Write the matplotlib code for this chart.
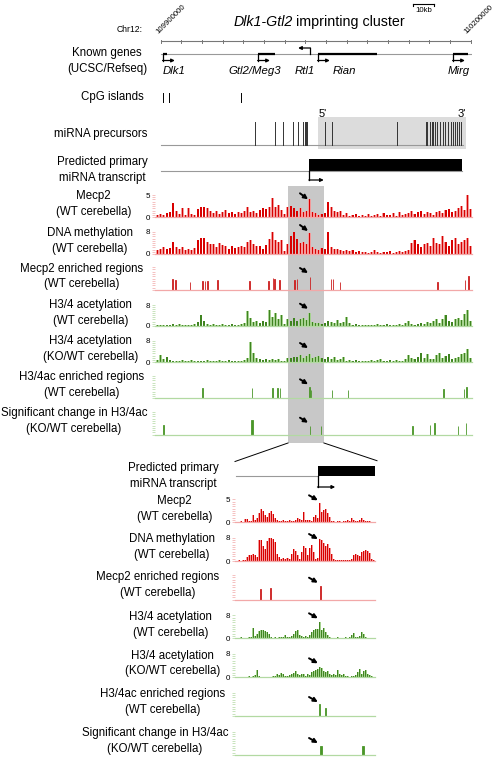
import matplotlib
matplotlib.use('Agg')
import matplotlib.pyplot as plt
from matplotlib.ticker import MultipleLocator
import numpy as np

plt.rcParams['font.family'] = ['Liberation Sans', 'DejaVu Sans']

# ---------------- data (positions in kb from 109,900,000) ----------------
chrom_start, chrom_end = 109900000, 110200000
ruler_kb = list(range(0, 301, 20))
scalebar_kb = [244.6, 264.6]

gene_names = ['Dlk1', 'Gtl2/Meg3', 'Rtl1', 'Rian', 'Mirg']
gene_start = [2.2, 94.2, 137.0, 152.2, 282.9]
gene_end = [6.1, 110.6, 144.5, 209.4, 297.4]
gene_strand = ['+', '+', '-', '+', '+']
gene_label_x = [2.2, 65.1, 130.0, 166.7, 278.0]

cpg_kb = [1.9, 8.3, 77.4]

mirna_kb = [91.3, 110.6, 118.6, 127.7, 133.2, 138.0, 139.6, 140.6, 141.6,
            159.0, 165.5, 229.0, 256.7, 258.0, 260.6, 262.3, 263.8, 265.5,
            267.1, 270.3, 272.9, 275.1, 278.3, 280.6, 283.2, 284.8, 287.0,
            289.0, 290.9]
mirna_box_kb = [152.2, 295.5]
transcript_kb = [143.8, 291.6]
zoom_kb = [123.2, 158.0]

# signal tracks, 3 kb bins starting at -4.5 kb
mecp2_top = [0.6, 0.8, 0.5, 0.9, 1.2, 3.3, 1.4, 0.8, 2.0, 0.6, 2.0, 0.7, 0.5,
             1.8, 2.4, 2.2, 2.0, 1.5, 1.0, 1.4, 0.8, 1.2, 1.6, 0.9, 1.1, 0.7,
             1.3, 1.0, 1.5, 2.3, 1.2, 1.5, 0.9, 1.6, 2.0, 1.8, 2.4, 4.3, 2.2,
             2.8, 1.6, 0.8, 2.2, 2.5, 2.0, 1.4, 2.0, 1.2, 1.5, 4.2, 1.3, 0.9,
             0.6, 0.8, 1.0, 3.5, 2.2, 1.4, 1.2, 1.5, 0.6, 1.0, 0.4, 0.5, 0.8,
             0.3, 0.5, 0.4, 0.7, 0.3, 0.5, 0.8, 0.4, 1.0, 0.6, 0.5, 0.9, 0.4,
             1.1, 0.6, 0.8, 0.9, 1.5, 0.7, 1.2, 1.5, 0.8, 1.3, 1.0, 0.6, 1.2,
             1.4, 0.9, 1.6, 1.8, 1.3, 1.5, 2.0, 2.5, 1.6, 5.0, 1.8]
meth_top = [1.5, 2.0, 2.6, 1.8, 2.2, 4.5, 2.5, 1.8, 2.4, 1.5, 2.0, 1.6, 2.2,
            5.0, 5.7, 6.0, 4.5, 3.5, 3.8, 2.5, 4.0, 3.2, 2.8, 2.0, 3.0, 2.2,
            2.6, 3.0, 2.4, 4.5, 5.0, 3.5, 2.8, 3.0, 2.0, 3.2, 5.5, 8.0, 5.0,
            4.5, 5.2, 1.0, 3.5, 6.5, 8.0, 5.5, 4.0, 4.5, 3.5, 7.8, 2.5, 2.0,
            1.5, 2.2, 1.8, 8.0, 2.5, 1.8, 2.0, 1.5, 1.2, 1.5, 1.0, 1.4, 0.8,
            1.0, 0.6, 0.8, 0.5, 0.7, 1.5, 0.6, 0.5, 0.9, 0.7, 1.0, 0.5, 0.8,
            1.2, 0.6, 1.0, 1.5, 4.0, 5.0, 3.5, 2.5, 3.5, 4.0, 3.0, 5.7, 4.0,
            3.5, 6.4, 4.5, 3.0, 5.0, 5.7, 3.5, 4.5, 5.2, 6.0, 3.0]
ac_wt_top = [0.3, 0.2, 0.4, 0.3, 0.2, 0.8, 0.3, 0.6, 0.2, 0.4, 0.3, 0.2, 0.5,
             1.5, 4.0, 2.0, 0.8, 0.3, 0.6, 0.2, 0.4, 0.8, 0.3, 0.2, 0.5, 0.3,
             0.4, 0.6, 1.2, 5.5, 3.0, 1.5, 1.8, 1.2, 2.0, 1.5, 6.0, 3.5, 5.0,
             2.5, 4.0, 0.5, 2.5, 2.0, 3.0, 1.8, 2.5, 3.0, 2.2, 5.0, 1.5, 1.0,
             1.2, 0.8, 1.0, 2.0, 1.5, 1.2, 2.2, 1.0, 1.5, 3.5, 1.0, 0.4, 0.6,
             0.3, 0.2, 0.2, 0.1, 0.3, 0.2, 0.5, 0.2, 0.1, 0.6, 0.3, 0.2, 0.4,
             0.8, 0.3, 1.0, 2.0, 0.8, 0.4, 0.6, 1.2, 0.8, 1.5, 1.0, 2.0, 2.5,
             1.2, 2.5, 4.0, 2.0, 1.5, 2.5, 3.0, 2.2, 4.5, 6.0, 2.0]
ac_ko_top = [0.8, 2.5, 1.0, 1.8, 0.6, 0.3, 0.5, 0.2, 0.8, 0.4, 0.3, 0.6, 0.2,
             0.5, 0.3, 0.4, 0.7, 0.2, 0.5, 0.3, 0.8, 0.4, 0.3, 0.6, 0.2, 0.5,
             0.4, 0.3, 0.6, 1.5, 7.4, 3.5, 1.5, 1.0, 0.8, 1.2, 0.6, 1.0, 0.8,
             1.2, 0.5, 0.3, 1.5, 1.5, 2.0, 1.8, 2.5, 1.6, 2.2, 2.8, 1.5, 2.0,
             2.2, 1.5, 1.0, 1.8, 1.2, 2.0, 0.8, 1.0, 2.0, 0.5, 0.8, 0.3, 0.6,
             0.2, 0.4, 0.5, 0.3, 0.8, 0.4, 0.6, 1.0, 0.5, 0.3, 0.6, 0.4, 0.8,
             0.5, 0.4, 1.2, 2.5, 1.5, 1.0, 2.0, 3.3, 1.5, 2.8, 1.2, 1.0, 2.5,
             3.5, 1.5, 2.2, 3.0, 1.0, 1.5, 2.0, 2.8, 3.5, 5.0, 1.5]

# zoomed signal tracks, 0.5 kb bins starting at 123.5 kb
mecp2_zoom = [0.1, 0.1, 0.2, 0.1, 0.8, 0.7, 0.2, 0.3, 1.5, 0.4, 1.0, 2.0, 2.8,
              2.5, 1.5, 1.2, 2.0, 2.5, 1.8, 1.0, 0.6, 0.3, 0.2, 0.4, 0.3, 0.2,
              0.5, 0.3, 0.2, 0.4, 1.0, 0.8, 0.5, 2.2, 0.5, 0.4, 0.6, 0.3, 1.2,
              1.6, 1.0, 4.2, 2.2, 2.6, 2.8, 2.0, 1.2, 0.3, 0.2, 0.1, 0.3, 0.2,
              0.1, 0.3, 0.2, 0.4, 0.2, 1.0, 0.5, 0.2, 0.3, 0.6, 1.0, 0.6, 0.3,
              0.2, 0.2, 0.1, 0.1]
meth_zoom = [0.1, 0.2, 0.1, 0.3, 0.5, 1.5, 2.0, 2.2, 2.5, 2.0, 1.2, 7.0, 7.2,
             5.0, 4.0, 6.8, 7.8, 8.0, 7.6, 6.5, 2.5, 1.2, 0.8, 1.0, 0.6, 1.0,
             0.8, 2.5, 4.0, 3.5, 2.0, 0.8, 3.0, 5.2, 4.5, 2.0, 4.5, 5.5, 3.0,
             0.6, 1.0, 7.5, 7.2, 6.0, 5.0, 5.8, 4.5, 2.5, 0.8, 0.4, 0.3, 0.2,
             0.3, 0.2, 0.4, 0.3, 0.5, 0.8, 2.0, 2.4, 2.2, 1.8, 3.0, 3.5, 3.8,
             3.5, 2.8, 0.8, 0.3]
ac_wt_zoom = [0.2, 0.1, 0.3, 0.2, 0.1, 0.2, 0.3, 0.4, 3.5, 0.8, 1.5, 2.5, 2.8,
              3.0, 2.6, 2.2, 1.5, 0.5, 0.2, 0.3, 0.2, 0.4, 0.3, 0.5, 1.0, 0.6,
              0.3, 0.8, 1.5, 2.5, 2.8, 1.2, 0.8, 0.6, 0.9, 0.5, 1.0, 2.2, 3.0,
              3.2, 3.4, 5.5, 3.0, 3.5, 2.2, 1.0, 0.3, 0.2, 0.1, 0.2, 0.3, 0.1,
              0.2, 0.2, 0.3, 0.2, 0.4, 1.0, 2.0, 0.6, 0.3, 0.8, 2.2, 1.5, 0.5,
              0.2, 0.2, 0.1, 0.1]
ac_ko_zoom = [0.1, 0.2, 0.1, 0.1, 0.2, 0.1, 0.3, 0.2, 0.4, 0.8, 2.5, 0.4, 0.1,
              0.2, 0.1, 0.1, 0.2, 0.1, 0.3, 0.5, 1.0, 0.8, 1.5, 1.2, 0.6, 0.4,
              0.9, 1.2, 1.5, 2.0, 1.2, 0.8, 1.0, 1.2, 0.6, 1.1, 0.9, 1.8, 2.2,
              2.5, 2.8, 3.5, 3.0, 2.0, 1.8, 2.2, 1.2, 0.8, 1.0, 0.7, 2.5, 1.2,
              0.8, 1.0, 0.5, 0.4, 0.2, 0.5, 0.3, 0.8, 1.8, 2.8, 1.0, 2.0, 2.5,
              1.2, 0.8, 0.6, 0.2]

# enriched / significant regions: position (kb), relative height, width (kb)
mecp2_enr_kb = [11.6, 14.5, 28.4, 40.3, 42.9, 45.2, 54.8, 85.8, 104.5, 108.4,
                110.0, 114.8, 129.5, 132.0, 144.4, 164.8, 166.8, 173.5, 267.7,
                294.5, 297.7]
mecp2_enr_h = [0.48, 0.43, 0.36, 0.39, 0.39, 0.39, 0.43, 0.39, 0.39, 0.54,
               0.50, 0.43, 0.43, 0.48, 0.55, 0.48, 0.48, 0.36, 0.36, 0.43, 0.62]
ac_enr_kb = [40.6, 88.1, 108.1, 112.9, 115.5, 144.2, 145.7, 165.5, 181.0,
             273.5, 293.5, 296.1]
ac_enr_h = [0.45, 0.45, 0.45, 0.45, 0.45, 0.52, 0.36, 0.37, 0.37, 0.40,
            0.40, 0.52]
sig_kb = [2.6, 88.7, 144.6, 155.0, 243.5, 260.6, 264.8, 288.0, 295.5]
sig_h = [0.42, 0.64, 0.40, 0.38, 0.38, 0.42, 0.50, 0.38, 0.50]
sig_w = [0.5, 2.2, 0.5, 0.5, 0.5, 0.5, 0.5, 0.5, 0.5]

for arr in (mecp2_top, meth_top, ac_wt_top, ac_ko_top):
    assert len(arr) == 102, len(arr)
for arr in (mecp2_zoom, meth_zoom, ac_wt_zoom, ac_ko_zoom):
    assert len(arr) == 69, len(arr)

top_bins = -3 + 3 * np.arange(102)
zoom_bins = 123.75 + 0.5 * np.arange(69)

# ---------------- layout ----------------
W, H = 498, 757
fig = plt.figure(figsize=(W / 100, H / 100), dpi=100)

TOP_X = (155, 472)
TOP_LIM = ((155 - 160.7) / 1.0333, (472 - 160.7) / 1.0333)
BOT_X = (235, 375)
BOT_LIM = tuple(zoom_kb)

RED, PINK, RED_LINE = '#d80000', '#f39a9a', '#f2a8a8'
GREEN, LGREEN, GREEN_LINE = '#3f8420', '#a6d290', '#b2d9a2'
LABEL_FS = 8.3


def top_px(kb):
    return 160.7 + 1.0333 * kb


def px_axes(x0, x1, ytop, ybot, **kw):
    ax = fig.add_axes([x0 / W, 1 - ybot / H, (x1 - x0) / W, (ybot - ytop) / H], **kw)
    ax.patch.set_alpha(0)
    return ax


# overlay in pixel coordinates (background shading, labels)
ov = px_axes(0, W, 0, H, zorder=0)
ov.set_xlim(0, W)
ov.set_ylim(H, 0)
ov.axis('off')

zx0, zx1 = top_px(zoom_kb[0]), top_px(zoom_kb[1])
ov.add_patch(plt.Rectangle((zx0, 186), zx1 - zx0, 443 - 186, color='#c8c8c8', lw=0))
ov.plot([zx0, BOT_X[0]], [443, 461.5], color='k', lw=0.7)
ov.plot([zx1, BOT_X[1] + 2], [443, 460.7], color='k', lw=0.7)

# header axes: x in kb, y in pixels
hd = px_axes(TOP_X[0], TOP_X[1], 0, 185, zorder=1)
hd.set_xlim(TOP_LIM)
hd.set_ylim(185, 0)
hd.axis('off')

# title / coordinates
ov.text(293, 22, 'Dlk1-Gtl2', ha='right', va='center', fontsize=10.3, style='italic')
ov.text(296.5, 22, 'imprinting cluster', ha='left', va='center', fontsize=10.3)
ov.text(143, 30, 'Chr12:', ha='right', va='center', fontsize=6.2)
hd.text(-1.2, 35.5, str(chrom_start), rotation=45, rotation_mode='anchor',
        ha='left', va='bottom', fontsize=5.6)
hd.text(297.5, 35.5, str(chrom_end), rotation=45, rotation_mode='anchor',
        ha='left', va='bottom', fontsize=5.6)
hd.plot([ruler_kb[0], ruler_kb[-1]], [41, 41], color='#777777', lw=0.8)
for t in ruler_kb:
    hd.plot([t, t], [40, 43], color='#777777', lw=0.7)
hd.plot(scalebar_kb, [3.5, 3.5], color='k', lw=0.8)
for s in scalebar_kb:
    hd.plot([s, s], [3.5, 6.2], color='k', lw=0.8)
hd.text(np.mean(scalebar_kb), 10.5, '10kb', ha='center', va='center', fontsize=5.6)

# known genes
hd.plot([0, 302], [54, 54], color='#999999', lw=0.8)
for name, s, e, strand, lx in zip(gene_names, gene_start, gene_end, gene_strand, gene_label_x):
    if strand == '+':
        hd.plot([s, e], [53.6, 53.6], color='k', lw=1.6, solid_capstyle='butt')
        hd.plot([s, s], [54, 60.5], color='k', lw=0.9)
        hd.annotate('', xy=(s + 11.5, 60.5), xytext=(s - 0.4, 60.5),
                    arrowprops=dict(arrowstyle='-|>', color='k', lw=0.9,
                                    mutation_scale=5, shrinkA=0, shrinkB=0))
    else:
        hd.plot([e, e], [54, 48], color='k', lw=0.9)
        hd.annotate('', xy=(e - 11.5, 48), xytext=(e + 0.4, 48),
                    arrowprops=dict(arrowstyle='-|>', color='k', lw=0.9,
                                    mutation_scale=5, shrinkA=0, shrinkB=0))
    hd.text(lx, 71, name, ha='left', va='center', fontsize=8.2, style='italic')

# CpG islands
for c in cpg_kb:
    hd.plot([c, c], [93, 101.5], color='k', lw=0.7)

# miRNA precursors
hd.add_patch(plt.Rectangle((mirna_box_kb[0], 117), mirna_box_kb[1] - mirna_box_kb[0], 32,
                           color='#dcdcdc', lw=0, zorder=0))
hd.plot([0, 292.6], [144.5, 144.5], color='#999999', lw=0.8)
for m in mirna_kb:
    hd.plot([m, m], [122, 144.5], color='#333333', lw=0.7)
hd.text(mirna_box_kb[0] + 0.3, 114, "5'", ha='left', va='center', fontsize=8)
hd.text(mirna_box_kb[1] - 0.3, 114, "3'", ha='right', va='center', fontsize=8)

# predicted primary transcript
hd.plot([0, transcript_kb[1]], [171, 171], color='#999999', lw=0.8)
hd.add_patch(plt.Rectangle((transcript_kb[0], 159), transcript_kb[1] - transcript_kb[0], 12,
                           color='k', lw=0))
hd.plot([transcript_kb[0]] * 2, [171, 180], color='k', lw=0.9)
hd.annotate('', xy=(transcript_kb[0] + 14, 180), xytext=(transcript_kb[0] - 0.4, 180),
            arrowprops=dict(arrowstyle='-|>', color='k', lw=0.9, mutation_scale=5,
                            shrinkA=0, shrinkB=0))

# zoomed transcript row
bt = px_axes(BOT_X[0], BOT_X[1], 460, 492, zorder=1)
bt.set_xlim(BOT_LIM)
bt.set_ylim(492, 460)
bt.axis('off')
bt.plot([zoom_kb[0] + 0.2, transcript_kb[0]], [476, 476], color='#999999', lw=0.8)
bt.add_patch(plt.Rectangle((transcript_kb[0], 466), zoom_kb[1] - transcript_kb[0], 10,
                           color='k', lw=0))
bt.plot([transcript_kb[0]] * 2, [476, 487], color='k', lw=0.9)
bt.annotate('', xy=(transcript_kb[0] + 4.3, 487), xytext=(transcript_kb[0] - 0.1, 487),
            arrowprops=dict(arrowstyle='-|>', color='k', lw=0.9, mutation_scale=5,
                            shrinkA=0, shrinkB=0))


def track(xr, xlim, ytop, ybase, ymax, line_color, ticklabels):
    ax = px_axes(xr[0], xr[1], ytop, ybase, zorder=1)
    ax.set_xlim(xlim)
    ax.set_ylim(0, ymax)
    for s in ('top', 'right', 'left'):
        ax.spines[s].set_visible(False)
    ax.spines['bottom'].set_color(line_color)
    ax.spines['bottom'].set_linewidth(0.9)
    ax.set_xticks([])
    ax.yaxis.set_minor_locator(MultipleLocator(ymax / 10))
    ax.tick_params(axis='y', which='both', length=2.5, width=0.5, color=line_color,
                   labelsize=5.8, pad=1.2)
    if ticklabels:
        ax.set_yticks([0, ymax])
        ax.set_yticklabels(ticklabels)
    else:
        ax.set_yticks([])
    return ax


def signal(ax, x, vals, step, dark, light, light_frac, dark_frac):
    ax.bar(x, vals, width=step * light_frac, color=light, lw=0)
    ax.bar(x, vals, width=step * dark_frac, color=dark, lw=0)


def regions(ax, pos, h, widths, color):
    # thin edge keeps narrow regions at least one pixel wide
    ax.bar(pos, h, width=widths, color=color, edgecolor=color, lw=0.6)


def arrow(ax, tail_kb, head_kb, tail_up, head_up, height):
    ax.annotate('', xy=(head_kb, head_up / height), xytext=(tail_kb, tail_up / height),
                xycoords=('data', 'axes fraction'), textcoords=('data', 'axes fraction'),
                annotation_clip=False,
                arrowprops=dict(arrowstyle='-|>', color='k', lw=1.4, mutation_scale=6,
                                shrinkA=0, shrinkB=0))


def label(xr, ymid, text):
    ov.text(xr, ymid, text, ha='right', va='center', fontsize=LABEL_FS,
            multialignment='center', linespacing=1.42)


# static labels
label(147, 61, 'Known genes\n(UCSC/Refseq)')
label(143.5, 97, 'CpG islands')
label(147.5, 134, 'miRNA precursors')
label(148, 170, 'Predicted primary\nmiRNA transcript')
label(219, 476, 'Predicted primary\nmiRNA transcript')

panels = [
    # (x range, xlim, bins, bin width, bar fractions, arrow tail, arrow head, rows,
    #  label x, signals, region width)
    (TOP_X, TOP_LIM, top_bins, 3.0, (0.9, 0.4), 134.8, 142.6,
     [(195, 217.3, 24, 18), (232, 254, 29, 23), (267, 290, 22, 17), (305, 325.7, 22, 17),
      (340.5, 362, 19, 14), (376, 398.3, 19, 14), (411.7, 434.7, 17, 12)],
     [131, 133, 143, 131.7, 138.3, 144, 147.3],
     (mecp2_top, meth_top, ac_wt_top, ac_ko_top), 0.4),
    (BOT_X, BOT_LIM, zoom_bins, 0.5, (1.0, 0.5), 141.6, 143.8,
     [(499.3, 522.3, 27, 22), (537.5, 561, 27, 22), (575, 599.7, 22, 17), (615.3, 638.3, 25, 20),
      (653.7, 677.3, 19, 14), (692.5, 716, 19, 14), (731.5, 755, 17, 12)],
     [212.3, 215, 219, 212.3, 220, 225, 228],
     (mecp2_zoom, meth_zoom, ac_wt_zoom, ac_ko_zoom), 0.3),
]
row_labels = ['Mecp2\n(WT cerebella)', 'DNA methylation\n(WT cerebella)',
              'Mecp2 enriched regions\n(WT cerebella)', 'H3/4 acetylation\n(WT cerebella)',
              'H3/4 acetylation\n(KO/WT cerebella)', 'H3/4ac enriched regions\n(WT cerebella)',
              'Significant change in H3/4ac\n(KO/WT cerebella)']

for xr, xlim, bins, step, fracs, a_tail, a_head, rows, lab_x, sigs, reg_w in panels:
    mecp2, meth, ac_wt, ac_ko = sigs
    specs = [
        (5, RED_LINE, ['0', '5'], 'sig', mecp2, RED, PINK),
        (8, RED_LINE, ['0', '8'], 'sig', meth, RED, PINK),
        (1, RED_LINE, None, 'reg', (mecp2_enr_kb, mecp2_enr_h, None), '#cc1f1f', None),
        (8, GREEN_LINE, ['0', '8'], 'sig', ac_wt, GREEN, LGREEN),
        (8, GREEN_LINE, ['0', '8'], 'sig', ac_ko, GREEN, LGREEN),
        (1, GREEN_LINE, None, 'reg', (ac_enr_kb, ac_enr_h, None), '#4a9628', None),
        (1, GREEN_LINE, None, 'reg', (sig_kb, sig_h, sig_w), '#4a9628', None),
    ]
    for (ytop, ybase, t_up, h_up), lx, text, spec in zip(rows, lab_x, row_labels, specs):
        ymax, lc, tl, kind, data, dark, light = spec
        ax = track(xr, xlim, ytop, ybase, ymax, lc, tl)
        if kind == 'sig':
            signal(ax, bins, data, step, dark, light, *fracs)
        else:
            pos, hts, wds = data
            if wds is None:
                wds = [reg_w] * len(pos)
            else:
                wds = [max(w, reg_w) if w > 1 else reg_w for w in wds]
            regions(ax, pos, hts, wds, dark)
        arrow(ax, a_tail, a_head, t_up, h_up, ybase - ytop)
        label(lx, (ytop + ybase) / 2 - 2, text)

fig.savefig('out.png', dpi=100)
